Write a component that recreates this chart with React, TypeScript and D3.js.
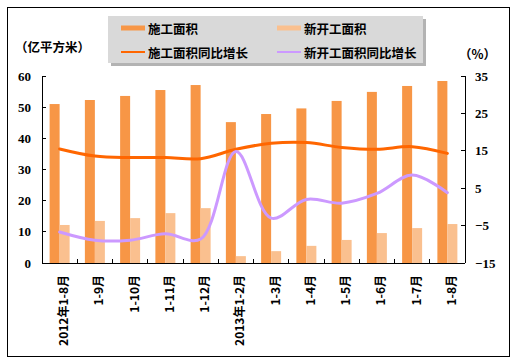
import React from "react";
import * as d3 from "d3";

const categories = ["2012年1-8月", "1-9月", "1-10月", "1-11月", "1-12月", "2013年1-2月", "1-3月", "1-4月", "1-5月", "1-6月", "1-7月", "1-8月"];
const buildArea = [51.0, 52.3, 53.6, 55.5, 57.1, 45.2, 47.8, 49.6, 52.0, 54.9, 56.8, 58.4];
const newArea = [12.2, 13.5, 14.4, 16.0, 17.6, 2.2, 3.8, 5.5, 7.4, 9.6, 11.2, 12.5];
const buildGrowth = [15.5, 13.6, 13.2, 13.2, 12.9, 15.4, 17.0, 17.2, 15.9, 15.4, 16.1, 14.3];
const newGrowth = [-6.7, -8.9, -8.9, -7.2, -8.6, 14.8, -3.0, 2.0, 1.0, 3.6, 8.5, 3.8];
const leftTicks = [0, 10, 20, 30, 40, 50, 60];
const rightTicks = [-15, -5, 5, 15, 25, 35];
const seriesNames = ["施工面积", "新开工面积", "施工面积同比增长", "新开工面积同比增长"];

const C_BUILD = "#F79646";
const C_NEW = "#FAC08F";
const C_BUILD_LINE = "#FF6600";
const C_NEW_LINE = "#CC99FF";

export default function App() {
  const left = 42, right = 465, top = 76, bottom = 263;
  const x = d3.scaleBand<string>().domain(categories).range([left, right]);
  const yL = d3.scaleLinear().domain([0, 60]).range([bottom, top]);
  const yR = d3.scaleLinear().domain([-15, 35]).range([bottom, top]);
  const bw = 10;
  const cx = (c: string) => (x(c) as number) + x.bandwidth() / 2;
  const line = (vals: number[]) =>
    d3.line<number>().x((_, i) => cx(categories[i])).y((v) => yR(v)).curve(d3.curveCatmullRom.alpha(0.5))(vals) || "";
  const numFont = "'Liberation Serif', serif";
  const cjk = "'Noto Sans CJK SC', sans-serif";
  return (
    <svg width={517} height={363} style={{ position: "absolute", left: 0, top: 0, background: "#fff" }}>
      <rect x={7.5} y={7.5} width={502} height={349} fill="#fff" stroke="#000" strokeWidth={1} />
      {/* legend */}
      <rect x={111} y={19} width={315} height={47} fill="#808080" opacity={0.6} />
      <rect x={108} y={16} width={315} height={47} fill="#D9D9D9" />
      {[0, 1, 2, 3].map((i) => {
        const lx = i % 2 === 0 ? 121 : 277;
        const ly = i < 2 ? 28 : 52;
        const col = [C_BUILD, C_NEW, C_BUILD_LINE, C_NEW_LINE][i];
        return (
          <g key={i}>
            <line x1={lx} x2={lx + 24} y1={ly} y2={ly} stroke={col} strokeWidth={i < 2 ? 5 : 2} />
            <text x={lx + 27} y={ly} dominantBaseline="central" fontFamily={cjk} fontWeight="bold" fontSize={12.5} fill="#000">
              {seriesNames[i]}
            </text>
          </g>
        );
      })}
      <text x={15} y={46} dominantBaseline="central" fontFamily={cjk} fontWeight="bold" fontSize={12.5}>（亿平方米）</text>
      <text x={459} y={53} dominantBaseline="central" fontFamily={cjk} fontWeight="bold" fontSize={12.5}>（%）</text>
      {/* bars */}
      {categories.map((c, i) => (
        <g key={c}>
          <rect x={cx(c) - bw} y={yL(buildArea[i])} width={bw} height={bottom - yL(buildArea[i])} fill={C_BUILD} />
          <rect x={cx(c)} y={yL(newArea[i])} width={bw} height={bottom - yL(newArea[i])} fill={C_NEW} />
        </g>
      ))}
      {/* lines */}
      <path d={line(buildGrowth)} fill="none" stroke={C_BUILD_LINE} strokeWidth={3} strokeLinejoin="round" strokeLinecap="round" />
      <path d={line(newGrowth)} fill="none" stroke={C_NEW_LINE} strokeWidth={3} strokeLinejoin="round" strokeLinecap="round" />
      {/* axes */}
      <g stroke="#000" strokeWidth={1} shapeRendering="crispEdges">
        <line x1={left} x2={left} y1={top} y2={bottom} />
        <line x1={right} x2={right} y1={top} y2={bottom} />
        <line x1={left} x2={right} y1={bottom} y2={bottom} />
        {leftTicks.map((t) => (
          <line key={"l" + t} x1={left} x2={left + 4} y1={yL(t)} y2={yL(t)} />
        ))}
        {rightTicks.map((t) => (
          <line key={"r" + t} x1={right - 4} x2={right} y1={yR(t)} y2={yR(t)} />
        ))}
        {categories.map((c) => (
          <line key={"x" + c} x1={x(c) as number} x2={x(c) as number} y1={bottom} y2={bottom - 4} />
        ))}
        <line x1={right} x2={right} y1={bottom} y2={bottom - 4} />
      </g>
      {leftTicks.map((t) => (
        <text key={"lt" + t} x={31} y={yL(t)} textAnchor="end" dominantBaseline="central" fontFamily={numFont} fontWeight="bold" fontSize={13}>
          {t}
        </text>
      ))}
      {rightTicks.map((t) => (
        <text key={"rt" + t} x={475} y={yR(t)} textAnchor="start" dominantBaseline="central" fontFamily={numFont} fontWeight="bold" fontSize={13}>
          {t < 0 ? "−" + Math.abs(t) : t}
        </text>
      ))}
      {categories.map((c) => (
        <text key={"xl" + c} transform={`translate(${cx(c) + 3},${275}) rotate(-90)`} textAnchor="end" dominantBaseline="central"
          fontFamily={cjk} fontWeight="bold" fontSize={12}>
          {c}
        </text>
      ))}
    </svg>
  );
}
